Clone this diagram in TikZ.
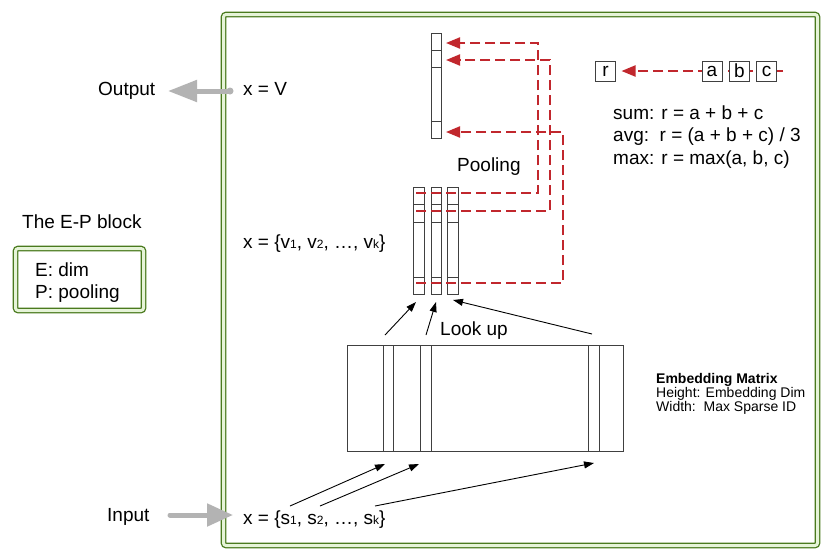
\documentclass[tikz,border=0pt]{standalone}
\usepackage{fontspec}
\setmainfont{Liberation Sans}
\usetikzlibrary{arrows.meta}
\definecolor{frameg}{HTML}{4A7A1E}
\definecolor{framel}{HTML}{E6F4D8}
\definecolor{dred}{HTML}{C1272D}
\definecolor{lgray}{HTML}{B3B3B3}
\definecolor{boxc}{HTML}{404040}
\newcommand\smallsub[1]{{\fontsize{12}{12}\selectfont #1}}
\tikzset{
  txt/.style={inner sep=0pt, anchor=base west, font=\fontsize{19}{22}\selectfont},
  smalltxt/.style={inner sep=0pt, anchor=base west, font=\fontsize{14}{16}\selectfont},
  frame/.style={draw=frameg, line width=1.3pt, double=framel, double distance=3pt, rounded corners=2.5pt},
  colbox/.style={draw=boxc, line width=1pt, inner sep=0pt, outer sep=0pt, fill=white},
  letterbox/.style={draw=boxc, line width=1pt, inner sep=0pt, outer sep=0pt, fill=white,
     minimum width=20pt, minimum height=20pt, font=\fontsize{19}{22}\selectfont},
  redarrow/.style={draw=dred, line width=2pt, dash pattern=on 10pt off 5pt,
     -{Triangle[length=14pt,width=11pt]}},
  blackarrow/.style={draw=black, line width=0.9pt, -{Triangle[length=10pt,width=7pt]}},
  grayarrow/.style={draw=lgray, line width=5pt, line cap=round}
}
\begin{document}
\begin{tikzpicture}[x=1pt,y=-1pt]
\useasboundingbox (0,0) rectangle (830,558);
\fill[white] (0,0) rectangle (830,558);

% main frame
\draw[frame] (223.5,14.5) rectangle (817.5,545.5);

% E-P block
\draw[frame] (15.5,248.5) rectangle (143.5,310.5);
\node[txt] (eptitle) at (22,228) {The E-P block};
\node[txt] (edim) at (35,276) {E: dim};
\node[txt] (ppool) at (35,298) {P: pooling};

% output column
\node[colbox, minimum width=10pt, minimum height=105pt] (out) at (436,85.5) {};
\foreach \yy in {50,67,121} \draw[boxc, line width=1pt] (out.west |- 0,\yy) -- (out.east |- 0,\yy);

% vector columns
\node[colbox, minimum width=11pt, minimum height=107pt] (v1) at (418.5,240.5) {};
\node[colbox, minimum width=10pt, minimum height=107pt] (v2) at (436,240.5) {};
\node[colbox, minimum width=11pt, minimum height=107pt] (v3) at (452.5,240.5) {};
\foreach \c in {v1,v2,v3}
  \foreach \yy in {204,222,277}
    \draw[boxc, line width=1pt] (\c.west |- 0,\yy) -- (\c.east |- 0,\yy);

% pooling arrows
\coordinate (s1) at (416,193);
\coordinate (s2) at (416,211);
\coordinate (s3) at (416,283);
\coordinate (t1) at (446,43);
\coordinate (t2) at (446,60);
\coordinate (t3) at (446,132);
\draw[redarrow] (s1) -- (538,193) -- (538,43) -- (t1);
\draw[redarrow] (s2) -- (550,211) -- (550,60) -- (t2);
\draw[redarrow] (s3) -- (563,283) -- (563,132) -- (t3);

\node[txt] (pool) at (457,171) {Pooling};

% embedding matrix
\node[colbox, minimum width=276pt, minimum height=106pt] (emb) at (485,398) {};
\node[colbox, minimum width=10pt, minimum height=106pt] (e1) at (388,398) {};
\node[colbox, minimum width=11pt, minimum height=106pt] (e2) at (425.5,398) {};
\node[colbox, minimum width=11pt, minimum height=106pt] (e3) at (593.5,398) {};

% look up arrows
\coordinate (l1) at (385,335);
\coordinate (l2) at (426,335);
\coordinate (l3) at (592,334);
\coordinate (lt1) at (416,302);
\coordinate (lt2) at (436,302);
\coordinate (lt3) at (453,300);
\draw[blackarrow] (l1) -- (lt1);
\draw[blackarrow] (l2) -- (lt2);
\draw[blackarrow] (l3) -- (lt3);
\node[txt] (lookup) at (440,335) {Look up};

% input arrows
\coordinate (i1) at (290,506);
\coordinate (i2) at (320,506);
\coordinate (i3) at (375,506);
\coordinate (it1) at (385,464);
\coordinate (it2) at (419,464);
\coordinate (it3) at (594,463);
\draw[blackarrow] (i1) -- (it1);
\draw[blackarrow] (i2) -- (it2);
\draw[blackarrow] (i3) -- (it3);

% labels left
\node[txt] (xv) at (243,95) {x = V};
\node[txt] (xvec) at (243,248) {x = \{v\smallsub{1}, v\smallsub{2}, …, v\smallsub{k}\}};
\node[txt] (xin) at (243,524) {x = \{s\smallsub{1}, s\smallsub{2}, …, s\smallsub{k}\}};
\node[txt] (outlbl) at (98,95) {Output};
\node[txt] (inlbl) at (107,521) {Input};

% gray arrows
\coordinate (og1) at (230,91);
\coordinate (og2) at (168,91);
\draw[grayarrow, -{Triangle[length=29pt,width=21pt]}] (og1) -- (og2);
\fill[lgray] (og1) circle (3.5pt);
\coordinate (ig1) at (170,515);
\coordinate (ig2) at (233,515);
\draw[grayarrow, -{Triangle[length=26pt,width=22pt]}] (ig1) -- (ig2);

% pooling legend
\coordinate (rs) at (783,71);
\node[letterbox] (r) at (605.5,71) {r};
\draw[redarrow] (rs) -- ([xshift=6pt]r.east);
\node[letterbox] (a) at (712,71) {a};
\node[letterbox] (b) at (739.5,71) {b};
\node[letterbox] (c) at (766.5,71) {c};
\node[txt] (sum) at (613,119) {sum: r = a + b + c};
\node[txt] (avg) at (613,141) {avg:\ \ r = (a + b + c) / 3};
\node[txt] (max) at (613,164) {max: r = max(a, b, c)};

% embedding legend
\node[smalltxt, font=\fontsize{14}{16}\selectfont\bfseries] (embt) at (656,383) {Embedding Matrix};
\node[smalltxt] (embh) at (656,397) {Height: Embedding Dim};
\node[smalltxt] (embw) at (656,411) {Width:\ \ Max Sparse ID};
\end{tikzpicture}
\end{document}
